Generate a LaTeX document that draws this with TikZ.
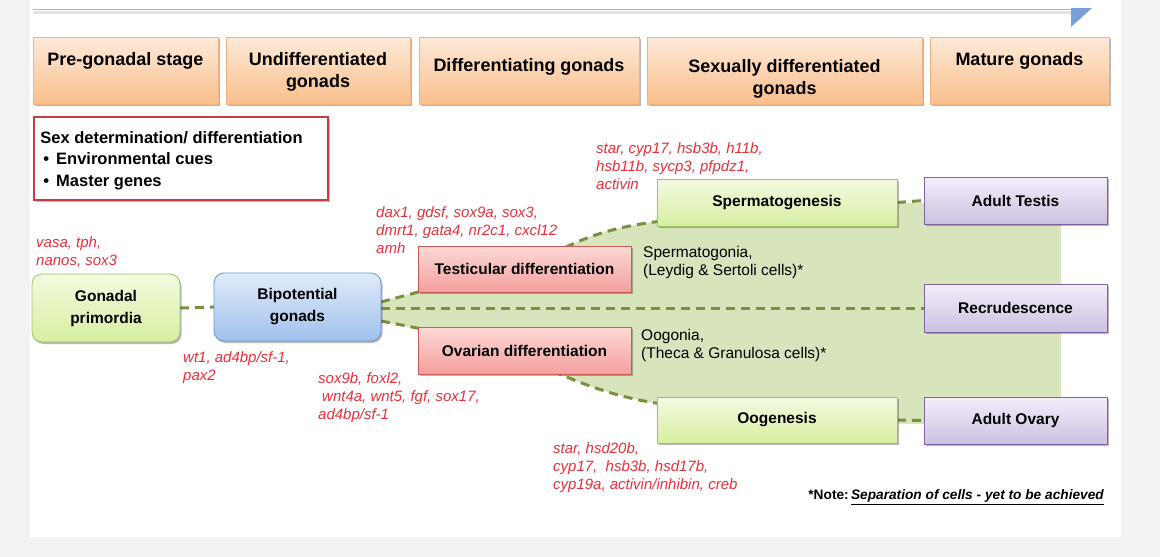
\documentclass[tikz,border=0pt]{standalone}
\usepackage{fontspec}
\setmainfont{Liberation Sans}
\usetikzlibrary{shadows,calc}
\pgfdeclarelayer{back}
\pgfdeclarelayer{bg}
\pgfsetlayers{back,bg,main}
\definecolor{pagegray}{RGB}{242,242,242}
\definecolor{hdrtop}{RGB}{253,234,217}
\definecolor{hdrbot}{RGB}{250,190,140}
\definecolor{hdrline}{RGB}{240,178,128}
\definecolor{grntop}{RGB}{243,250,225}
\definecolor{grnbot}{RGB}{215,239,160}
\definecolor{grnline}{RGB}{160,195,100}
\definecolor{blutop}{RGB}{224,235,250}
\definecolor{blubot}{RGB}{160,193,236}
\definecolor{bluline}{RGB}{110,150,205}
\definecolor{redtop}{RGB}{252,216,214}
\definecolor{redbot}{RGB}{243,160,158}
\definecolor{redline}{RGB}{200,90,88}
\definecolor{purtop}{RGB}{243,238,250}
\definecolor{purbot}{RGB}{205,192,226}
\definecolor{purline}{RGB}{128,100,162}
\definecolor{genered}{RGB}{232,48,58}
\definecolor{dashgreen}{RGB}{118,146,60}
\definecolor{shadegreen}{RGB}{215,228,188}
\definecolor{boxred}{RGB}{192,64,64}
\definecolor{arrowblue}{RGB}{120,160,215}
\tikzset{
  shad/.style={drop shadow={shadow xshift=1.5pt,shadow yshift=-2pt,opacity=0.28,fill=black}},
  flow/.style={shad, inner sep=0pt, outer sep=0pt, align=center, line width=0.8pt,
    font=\fontsize{15.5}{22}\selectfont\bfseries},
  hdr/.style={shad, inner sep=0pt, draw=hdrline, line width=0.8pt, top color=hdrtop, bottom color=hdrbot, minimum height=67pt},
  hdrtxt/.style={inner sep=0pt, align=center, font=\fontsize{18}{22}\selectfont\bfseries},
  gbox/.style={flow, draw=grnline, top color=grntop, bottom color=grnbot},
  bbox/.style={flow, draw=bluline, top color=blutop, bottom color=blubot},
  rbox/.style={flow, draw=redline, top color=redtop, bottom color=redbot, minimum width=213pt},
  pbox/.style={flow, draw=purline, top color=purtop, bottom color=purbot, minimum width=183pt},
  gene/.style={anchor=north west, inner sep=0pt, align=left, text=genered,
    font=\fontsize{15}{18.3}\selectfont\itshape},
  cell/.style={anchor=north west, inner sep=0pt, align=left,
    font=\fontsize{15.5}{18.5}\selectfont},
  dashln/.style={draw=dashgreen, line width=3pt, dash pattern=on 9pt off 6pt}
}
\begin{document}
\begin{tikzpicture}[x=1pt,y=-1pt]
\useasboundingbox (0,0) rectangle (1160,557);
\begin{pgfonlayer}{back}
\fill[pagegray] (0,0) rectangle (1160,557);
\fill[white] (30,0) rectangle (1121,537);
\end{pgfonlayer}
% remnant of the top arrow
\draw[gray!22, line width=3pt] (34,12) -- (1071,12);
\draw[gray!60, line width=1pt] (33,9.5) -- (1071,9.5);
\fill[arrowblue] (1071,8) -- (1092,8) -- (1071,27) -- cycle;

% header stages
\node[hdr, minimum width=185pt] (h1) at (125.5,70.5) {};
\node[hdr, minimum width=184pt] (h2) at (318,70.5) {};
\node[hdr, minimum width=220pt] (h3) at (529,70.5) {};
\node[hdr, minimum width=275pt] (h4) at (784.5,70.5) {};
\node[hdr, minimum width=179pt] (h5) at (1019.5,70.5) {};
\node[hdrtxt] at ($(h1.north)+(0,24)$) {Pre-gonadal stage};
\node[hdrtxt] at ($(h2.north)+(0,35)$) {Undifferentiated\\gonads};
\node[hdrtxt] at ($(h3.north)+(0,30.5)$) {Differentiating gonads};
\node[hdrtxt] at ($(h4.north)+(0,42)$) {Sexually differentiated\\gonads};
\node[hdrtxt] at ($(h5.north)+(0,24)$) {Mature gonads};

% sex determination box
\node[shad, draw=boxred, line width=1.6pt, fill=white, minimum width=294pt, minimum height=83pt, inner sep=0pt] (sexbox) at (181,158.5) {};
\node[anchor=west, align=left, inner sep=0pt, font=\fontsize{16.5}{21.5}\selectfont\bfseries]
  at ($(sexbox.west)+(7,2)$) {Sex determination/ differentiation\\\hspace{3pt}•\hspace{7pt}Environmental cues\\\hspace{3pt}•\hspace{7pt}Master genes};

% flow boxes
\node[gbox, rounded corners=10pt, minimum width=148pt, minimum height=68pt] (gp) at (106,308) {Gonadal\\primordia};
\node[bbox, rounded corners=10pt, minimum width=167pt, minimum height=68pt] (bp) at (297.5,307) {Bipotential\\gonads};
\node[rbox, minimum height=46pt] (td) at (524.5,269) {Testicular differentiation};
\node[rbox, minimum height=47pt] (od) at (524.5,350.5) {Ovarian differentiation};
\node[gbox, minimum width=240pt, minimum height=47pt] (sg) at (777,202.5) {Spermatogenesis};
\node[gbox, minimum width=240pt, minimum height=46pt] (og) at (777,420) {Oogenesis};
\node[pbox, minimum height=47pt] (ate) at (1015.5,200.5) {Adult Testis};
\node[pbox, minimum height=48pt] (rec) at (1015.5,308) {Recrudescence};
\node[pbox, minimum height=47pt] (aov) at (1015.5,420.5) {Adult Ovary};

% gene lists
\node[gene] at (596,142) {star, cyp17, hsb3b, h11b,\\hsb11b, sycp3, pfpdz1,\\activin};
\node[gene] at (376,206) {dax1, gdsf, sox9a, sox3,\\dmrt1, gata4, nr2c1, cxcl12\\amh};
\node[gene] at (36,236) {vasa, tph,\\nanos, sox3};
\node[gene] at (183,351) {wt1, ad4bp/sf-1,\\pax2};
\node[gene] at (318,372) {sox9b, foxl2,\\\hspace{4pt}wnt4a, wnt5, fgf, sox17,\\ad4bp/sf-1};
\node[gene] at (553,442) {star, hsd20b,\\cyp17,\ \ hsb3b, hsd17b,\\cyp19a, activin/inhibin, creb};

% cell texts
\node[cell] at (643,246) {Spermatogonia,\\(Leydig \& Sertoli cells)*};
\node[cell] at (641,329) {Oogonia,\\(Theca \& Granulosa cells)*};

% note
\node[anchor=east, inner sep=0pt, font=\fontsize{13.7}{16}\selectfont\bfseries] (note) at (1104,497)
  {*Note:\,\textit{\underline{Separation of cells - yet to be achieved}}};

% shaded region and connectors
\begin{pgfonlayer}{bg}
\fill[shadegreen] ($(bp.east)+(-2,-5)$) -- ($(td.south west)+(2,0)$) -- ($(td.north)+(15,16)$)
  .. controls (582,235) and (620,226) .. ($(sg.south west)+(5,-5)$) -- (662,203) -- (1061,203)
  -- (1061,424) -- (662,424) -- ($(og.north west)+(5,7)$)
  .. controls (620,398) and (585,386) .. ($(od.south)+(15,-9)$)
  -- ($(od.north west)+(2,2)$) -- ($(bp.east)+(-2,14)$) -- cycle;
\draw[dashln] (gp.east) -- (bp.west);
\draw[dashln] ($(bp.east)+(0,-5)$) -- ($(td.south west)+(4,-1)$);
\draw[dashln] (bp.east |- rec.west) -- (rec.west);
\draw[dashln] ($(bp.east)+(0,14)$) -- ($(od.north west)+(4,2)$);
\draw[dashln] ($(td.north)+(15,16)$) .. controls (582,235) and (620,226) .. ($(sg.south west)+(5,-5)$);
\draw[dashln] (sg.east) -- (ate.west);
\draw[dashln] ($(od.south)+(15,-9)$) .. controls (585,386) and (620,398) .. ($(og.north west)+(5,7)$);
\draw[dashln] (og.east) -- (aov.west);
\end{pgfonlayer}
\end{tikzpicture}
\end{document}
